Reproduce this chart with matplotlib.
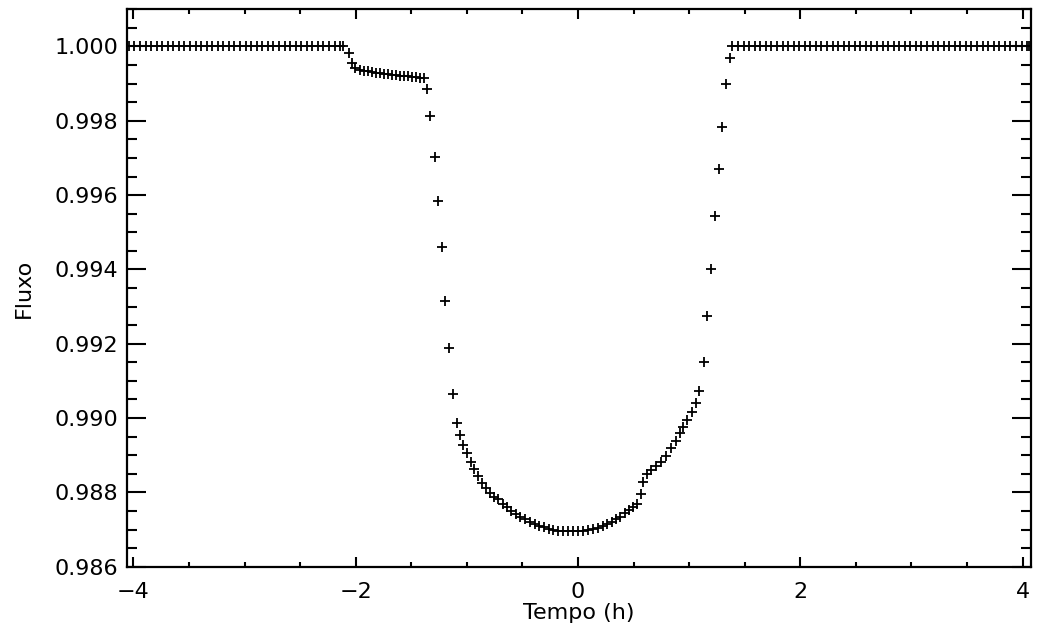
import numpy as np
import matplotlib
matplotlib.use("Agg")
import matplotlib.pyplot as plt
from matplotlib.ticker import MultipleLocator, FormatStrFormatter

# out-of-transit baseline (flux = 1)
t_pre = [-4.04, -3.99, -3.94, -3.89, -3.84, -3.79, -3.74, -3.69, -3.64, -3.59,
         -3.54, -3.49, -3.44, -3.39, -3.34, -3.29, -3.24, -3.19, -3.14, -3.09,
         -3.04, -2.99, -2.94, -2.89, -2.84, -2.79, -2.74, -2.69, -2.64, -2.59,
         -2.54, -2.49, -2.44, -2.39, -2.34, -2.29, -2.24, -2.19, -2.14, -2.11]
t_post = [1.39, 1.44, 1.49, 1.54, 1.59, 1.64, 1.69, 1.74, 1.79, 1.84,
          1.89, 1.94, 1.99, 2.04, 2.09, 2.14, 2.19, 2.24, 2.29, 2.34,
          2.39, 2.44, 2.49, 2.54, 2.59, 2.64, 2.69, 2.74, 2.79, 2.84,
          2.89, 2.94, 2.99, 3.04, 3.09, 3.14, 3.19, 3.24, 3.29, 3.34,
          3.39, 3.44, 3.49, 3.54, 3.59, 3.64, 3.69, 3.74, 3.79, 3.84,
          3.89, 3.94, 3.99, 4.04, 4.06]

# in-transit samples
t_tr = [-2.060, -2.029, -2.009, -1.964, -1.928, -1.892, -1.856, -1.820, -1.784, -1.748,
        -1.712, -1.676, -1.640, -1.604, -1.568, -1.532, -1.496, -1.460, -1.424, -1.388,
        -1.359, -1.330, -1.290, -1.260, -1.224, -1.194, -1.158, -1.126, -1.090, -1.061,
        -1.030, -0.994, -0.962, -0.931, -0.895, -0.859, -0.823, -0.787, -0.751, -0.722,
        -0.677, -0.641, -0.601, -0.556, -0.518, -0.473, -0.430, -0.386, -0.347, -0.302,
        -0.263, -0.221, -0.179, -0.138, -0.093, -0.048, -0.003, 0.042, 0.087, 0.132,
        0.177, 0.222, 0.258, 0.302, 0.342, 0.381, 0.423, 0.462, 0.491, 0.527,
        0.567, 0.581, 0.617, 0.656, 0.701, 0.744, 0.789, 0.836, 0.879, 0.917,
        0.947, 0.985, 1.023, 1.061, 1.090, 1.135, 1.165, 1.201, 1.234, 1.270,
        1.300, 1.335, 1.366]
f_tr = [0.99982, 0.99955, 0.99942, 0.999372, 0.999345, 0.999327, 0.999311, 0.999292, 0.999278, 0.999265,
        0.999251, 0.999238, 0.999227, 0.999216, 0.999205, 0.999195, 0.999184, 0.999173, 0.999162, 0.999152,
        0.998853, 0.998134, 0.997021, 0.995852, 0.994597, 0.993151, 0.991893, 0.990638, 0.989873, 0.989542,
        0.989286, 0.989049, 0.988823, 0.988626, 0.988430, 0.988263, 0.988115, 0.987993, 0.987886, 0.987810,
        0.987684, 0.987595, 0.987495, 0.987406, 0.987342, 0.987272, 0.987207, 0.987145, 0.987091, 0.987056,
        0.987019, 0.986984, 0.986965, 0.986957, 0.986957, 0.986957, 0.986957, 0.986957, 0.986984, 0.987011,
        0.987046, 0.987091, 0.987145, 0.987207, 0.987272, 0.987342, 0.987433, 0.987522, 0.987611, 0.987676,
        0.987953, 0.988284, 0.988492, 0.988600, 0.988707, 0.988815, 0.988977, 0.989184, 0.989394, 0.989588,
        0.989766, 0.989960, 0.990170, 0.990412, 0.990735, 0.991500, 0.992747, 0.994013, 0.995448, 0.996706,
        0.997845, 0.998987, 0.999688]

tempo = np.concatenate([t_pre, t_tr, t_post])
fluxo = np.concatenate([np.ones(len(t_pre)), f_tr, np.ones(len(t_post))])

fig = plt.figure(figsize=(10.4, 6.33), dpi=100)
ax = fig.add_axes([0.1218, 0.1047, 0.8695, 0.8806])

ax.plot(tempo, fluxo, '+', color='black', markersize=7.5, markeredgewidth=1.3)

ax.set_xlim(-4.06, 4.075)
ax.set_ylim(0.986, 1.001)
ax.xaxis.set_major_locator(MultipleLocator(2))
ax.xaxis.set_minor_locator(MultipleLocator(0.5))
ax.yaxis.set_major_locator(MultipleLocator(0.002))
ax.yaxis.set_minor_locator(MultipleLocator(0.0005))
ax.yaxis.set_major_formatter(FormatStrFormatter('%.3f'))

ax.tick_params(axis='both', which='both', direction='in', top=True, right=True,
               width=1.5, labelsize=16, colors='black')
ax.tick_params(axis='x', which='major', length=7, pad=11)
ax.tick_params(axis='x', which='minor', length=3.6)
ax.tick_params(axis='y', which='major', length=13.5, pad=6)
ax.tick_params(axis='y', which='minor', length=7)
for s in ax.spines.values():
    s.set_linewidth(1.6)

ax.set_xlabel('Tempo (h)', fontsize=16, labelpad=1)
ax.set_ylabel('Fluxo', fontsize=16, labelpad=15)

fig.savefig('out.png', dpi=100)
